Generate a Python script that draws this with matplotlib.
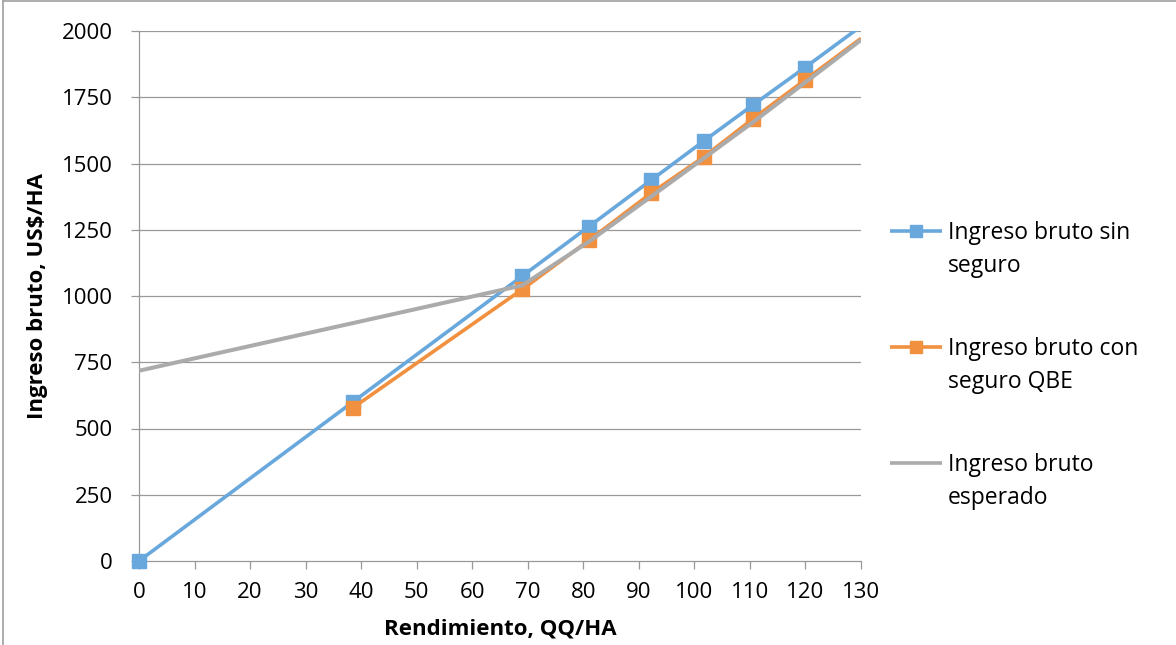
import matplotlib.pyplot as plt
from matplotlib.lines import Line2D
import numpy as np

plt.rcParams['font.family'] = ['Open Sans', 'DejaVu Sans']

# Rendimiento (QQ/HA) y ingreso bruto (US$/HA)
rend_sin = [0, 38.5, 69, 81, 92.2, 101.7, 110.5, 119.9, 130]
ingreso_sin = [0, 600, 1075, 1262, 1437, 1585, 1720, 1862, 2018]

rend_con = [38.5, 69, 81, 92.2, 101.7, 110.5, 119.9, 130]
ingreso_con = [578, 1025, 1210, 1388, 1525, 1668, 1815, 1972]

rend_esp = [0, 69, 81, 92.2, 101.7, 110.5, 119.9, 130]
ingreso_esp = [718, 1040, 1205, 1375, 1520, 1655, 1805, 1966]

labels = ['Ingreso bruto sin\nseguro', 'Ingreso bruto con\nseguro QBE', 'Ingreso bruto\nesperado']
colors = ['#69A8DC', '#F1903F', '#ABABAB']

W, H = 1176, 645
fig = plt.figure(figsize=(W / 100, H / 100), dpi=100)
ax = fig.add_axes([139 / W, 1 - 561 / H, (861 - 139) / W, (561 - 31) / H])

grid_c = '#999999'
lw = 2.6
ms = 10.5

# lineas recortadas al area del grafico, marcadores sin recortar
ax.plot(rend_sin, ingreso_sin, color=colors[0], lw=lw, zorder=3, solid_capstyle='butt')
ax.plot(rend_sin[:-1], ingreso_sin[:-1], ls='none', marker='s', ms=ms, color=colors[0],
        zorder=4, clip_on=False)
ax.plot(rend_con, ingreso_con, color=colors[1], lw=lw, zorder=5, solid_capstyle='butt')
ax.plot(rend_con[:-1], ingreso_con[:-1], ls='none', marker='s', ms=ms, color=colors[1],
        zorder=6, clip_on=False)
ax.plot(rend_esp, ingreso_esp, color=colors[2], lw=lw + 0.3, zorder=7, solid_capstyle='butt')

ax.set_xlim(0, 130)
ax.set_ylim(0, 2000)
ax.set_xticks(np.arange(0, 131, 10))
ax.set_yticks(np.arange(0, 2001, 250))

for y in np.arange(250, 2001, 250):
    ax.axhline(y, color=grid_c, lw=0.9, zorder=1)

for s in ['top', 'right']:
    ax.spines[s].set_visible(False)
for s in ['left', 'bottom']:
    ax.spines[s].set_color(grid_c)
    ax.spines[s].set_linewidth(0.9)

ax.tick_params(axis='x', direction='out', length=6, width=0.9, color=grid_c,
               labelsize=16, pad=9, labelcolor='black')
ax.tick_params(axis='y', direction='out', length=6, width=0.9, color=grid_c,
               labelsize=16, pad=13, labelcolor='black')

ax.set_xlabel('Rendimiento, QQ/HA', fontsize=16, fontweight='bold')
ax.set_ylabel('Ingreso bruto, US$/HA', fontsize=16, fontweight='bold')
ax.xaxis.set_label_coords(0.5, (561 - 629) / 530)
ax.xaxis.label.set_va('center')
ax.yaxis.set_label_coords((38 - 139) / 722, 0.5)
ax.yaxis.label.set_va('center')

# leyenda dibujada a mano: la linea alineada con la primera linea del texto
ys = [231, 347, 463]
for lab, c, yy, mk in zip(labels, colors, ys, ['s', 's', None]):
    fy = 1 - yy / H
    fig.add_artist(Line2D([890 / W, 942 / W], [fy, fy], color=c, lw=lw,
                          transform=fig.transFigure, solid_capstyle='butt'))
    if mk:
        fig.add_artist(Line2D([916 / W], [fy], marker=mk, ms=9, color=c,
                              transform=fig.transFigure))
    for i, line in enumerate(lab.split('\n')):
        fig.text(948 / W, 1 - (yy + 2 + 33 * i) / H, line, fontsize=16.5,
                 va='center', ha='left')

# borde del area del grafico
fig.add_artist(Line2D([3 / W, 3 / W], [0, 1 - 1 / H], color='#A0A0A0', lw=1.2,
                      transform=fig.transFigure))
fig.add_artist(Line2D([3 / W, 1], [1 - 1 / H, 1 - 1 / H], color='#A0A0A0', lw=1.2,
                      transform=fig.transFigure))

fig.savefig('out.png', dpi=100, facecolor='white')
